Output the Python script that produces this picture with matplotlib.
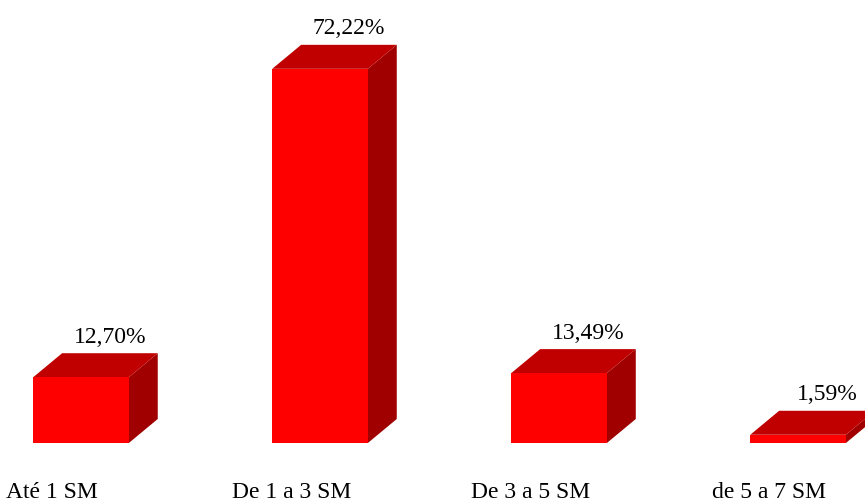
import matplotlib
matplotlib.use("Agg")
import matplotlib.pyplot as plt
from matplotlib.patches import Polygon

categorias = ["Até 1 SM", "De 1 a 3 SM", "De 3 a 5 SM", "de 5 a 7 SM"]
valores = [12.70, 72.22, 13.49, 1.59]
rotulos = ["12,70%", "72,22%", "13,49%", "1,59%"]

plt.rcParams["font.family"] = ["Liberation Serif", "DejaVu Serif"]

fig = plt.figure(figsize=(8.65, 5.03), dpi=100)
ax = fig.add_axes([0, 0, 1, 1])
ax.set_xlim(-0.339, 3.280)
ax.set_ylim(-11.58, 85.5)
ax.axis("off")

largura = 0.40
dx = 0.121   # profundidade em x
dy = 4.63    # profundidade em y

frente = "#ff0000"
topo = "#c00000"
lado = "#a00000"

for i, v in enumerate(valores):
    x0 = i - largura / 2
    x1 = i + largura / 2
    # face lateral
    ax.add_patch(Polygon([(x1, 0), (x1 + dx, dy), (x1 + dx, v + dy), (x1, v)],
                         closed=True, facecolor=lado, edgecolor="none"))
    # topo
    ax.add_patch(Polygon([(x0, v), (x0 + dx, v + dy), (x1 + dx, v + dy), (x1, v)],
                         closed=True, facecolor=topo, edgecolor="none"))
    # frente
    ax.bar(i, v, width=largura, color=frente, edgecolor="none")

    ax.annotate(rotulos[i], (i + dx, v + dy), xytext=(0, 4), textcoords="offset points",
                ha="center", va="bottom", fontsize=17)
    ax.text(i - 0.12, -10.6, categorias[i], ha="center", va="baseline", fontsize=17)

fig.savefig("out.png", dpi=100)
